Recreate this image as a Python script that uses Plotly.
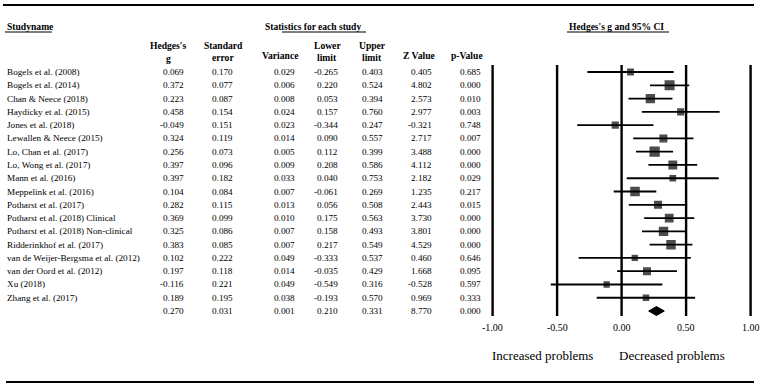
import plotly.graph_objects as go

studies = ["Bogels et al. (2008)", "Bogels et al. (2014)", "Chan & Neece (2018)", "Haydicky et al. (2015)",
           "Jones et al. (2018)", "Lewallen & Neece (2015)", "Lo, Chan et al. (2017)", "Lo, Wong et al. (2017)",
           "Mann et al. (2016)", "Meppelink et al. (2016)", "Potharst et al. (2017)", "Potharst et al. (2018) Clinical",
           "Potharst et al. (2018) Non-clinical", "Ridderinkhof et al. (2017)", "van de Weijer-Bergsma et al. (2012)",
           "van der Oord et al. (2012)", "Xu (2018)", "Zhang et al. (2017)"]
hedges_g = [0.069, 0.372, 0.223, 0.458, -0.049, 0.324, 0.256, 0.397, 0.397, 0.104, 0.282, 0.369, 0.325, 0.383, 0.102, 0.197, -0.116, 0.189]
std_err = [0.170, 0.077, 0.087, 0.154, 0.151, 0.119, 0.073, 0.096, 0.182, 0.084, 0.115, 0.099, 0.086, 0.085, 0.222, 0.118, 0.221, 0.195]
variance = [0.029, 0.006, 0.008, 0.024, 0.023, 0.014, 0.005, 0.009, 0.033, 0.007, 0.013, 0.010, 0.007, 0.007, 0.049, 0.014, 0.049, 0.038]
lower = [-0.265, 0.220, 0.053, 0.157, -0.344, 0.090, 0.112, 0.208, 0.040, -0.061, 0.056, 0.175, 0.158, 0.217, -0.333, -0.035, -0.549, -0.193]
upper = [0.403, 0.524, 0.394, 0.760, 0.247, 0.557, 0.399, 0.586, 0.753, 0.269, 0.508, 0.563, 0.493, 0.549, 0.537, 0.429, 0.316, 0.570]
z_value = [0.405, 4.802, 2.573, 2.977, -0.321, 2.717, 3.488, 4.112, 2.182, 1.235, 2.443, 3.730, 3.801, 4.529, 0.460, 1.668, -0.528, 0.969]
p_value = [0.685, 0.000, 0.010, 0.003, 0.748, 0.007, 0.000, 0.000, 0.029, 0.217, 0.015, 0.000, 0.000, 0.000, 0.646, 0.095, 0.597, 0.333]

summary = {"g": 0.270, "se": 0.031, "var": 0.001, "lo": 0.210, "hi": 0.331, "z": 8.770, "p": 0.000}

tick_vals = [-1.0, -0.5, 0.0, 0.5, 1.0]
tick_text = ["-1.00", "-0.50", "0.00", "0.50", "1.00"]

W, H = 765, 388
FONT = "Liberation Serif, Times New Roman, DejaVu Serif, serif"
n = len(studies)
rows = list(range(n))
sum_row = n

bottom_px = 318
row_px0, row_step = 72, 13.28
y_top = -row_px0 / row_step
y_bot = (bottom_px - row_px0) / row_step

fig = go.Figure()

# vertical reference lines at each tick value (from just above first row to below summary)
ref_top = (65 - row_px0) / row_step
ref_bot = (316 - row_px0) / row_step
for v in tick_vals:
    fig.add_trace(go.Scatter(x=[v, v], y=[ref_top, ref_bot], mode="lines",
                             line=dict(color="black", width=2.4), hoverinfo="skip", showlegend=False))

# CI lines
for i in rows:
    fig.add_trace(go.Scatter(x=[lower[i], upper[i]], y=[i, i], mode="lines",
                             line=dict(color="black", width=1.8), hoverinfo="skip", showlegend=False))

# squares sized by weight
sizes = [4.3 + 0.44 * (1.0 / (s * s)) ** 0.5 for s in std_err]
fig.add_trace(go.Scatter(x=hedges_g, y=rows, mode="markers",
                         marker=dict(symbol="square", color="black", size=sizes, line=dict(width=0)),
                         hoverinfo="skip", showlegend=False))

# summary diamond
dh = 0.34
fig.add_trace(go.Scatter(x=[summary["lo"], summary["g"], summary["hi"], summary["g"], summary["lo"]],
                         y=[sum_row, sum_row - dh, sum_row, sum_row + dh, sum_row],
                         mode="lines", fill="toself", fillcolor="black",
                         line=dict(color="black", width=1), hoverinfo="skip", showlegend=False))

def px(x):
    return x / W

def py(y):
    return 1 - y / H

col_right = [186, 235, 297, 340, 385, 434, 483]
cols = [hedges_g, std_err, variance, lower, upper, z_value, p_value]
sum_vals = [summary["g"], summary["se"], summary["var"], summary["lo"], summary["hi"], summary["z"], summary["p"]]

ann = []
tf = dict(family=FONT, size=9.2, color="black")
for i in rows:
    ann.append(dict(x=px(5), y=i, xref="paper", yref="y", text=studies[i], xanchor="left",
                    yanchor="middle", showarrow=False, font=tf))
    for c, xr in zip(cols, col_right):
        ann.append(dict(x=px(xr), y=i, xref="paper", yref="y", text=f"{c[i]:.3f}", xanchor="right",
                        yanchor="middle", showarrow=False, font=tf))
for v, xr in zip(sum_vals, col_right):
    ann.append(dict(x=px(xr), y=sum_row, xref="paper", yref="y", text=f"{v:.3f}", xanchor="right",
                    yanchor="middle", showarrow=False, font=tf))

# axis tick labels placed through the x scale
for v, t in zip(tick_vals, tick_text):
    ann.append(dict(x=v, y=py(327), xref="x", yref="paper", text=t, xanchor="center",
                    yanchor="middle", showarrow=False, font=dict(family=FONT, size=10, color="black")))

hf = dict(family=FONT, size=9.6, color="black")
headers = [
    ("<b>Hedges's</b>", 168, 45), ("<b>g</b>", 168, 58),
    ("<b>Standard</b>", 223, 45), ("<b>error</b>", 223, 57),
    ("<b>Variance</b>", 280, 56),
    ("<b>Lower</b>", 327, 45), ("<b>limit</b>", 327, 57),
    ("<b>Upper</b>", 372, 45), ("<b>limit</b>", 372, 57),
    ("<b>Z Value</b>", 419, 56),
    ("<b>p-Value</b>", 467, 56),
]
for t, x, y in headers:
    ann.append(dict(x=px(x), y=py(y), xref="paper", yref="paper", text=t, xanchor="center",
                    yanchor="middle", showarrow=False, font=hf))

ann.append(dict(x=px(5), y=py(27), xref="paper", yref="paper", text="<b>Studyname</b>", xanchor="left",
                yanchor="middle", showarrow=False, font=hf))
ann.append(dict(x=px(263), y=py(27), xref="paper", yref="paper", text="<b>Statistics for each study</b>",
                xanchor="left", yanchor="middle", showarrow=False, font=dict(family=FONT, size=9.5, color="black")))
ann.append(dict(x=px(567), y=py(27), xref="paper", yref="paper", text="<b>Hedges's g and 95% CI</b>",
                xanchor="left", yanchor="middle", showarrow=False, font=dict(family=FONT, size=9.5, color="black")))

lf = dict(family=FONT, size=13, color="black")
ann.append(dict(x=px(542), y=py(355), xref="paper", yref="paper", text="Increased problems", xanchor="center",
                yanchor="middle", showarrow=False, font=lf))
ann.append(dict(x=px(672), y=py(355), xref="paper", yref="paper", text="Decreased problems", xanchor="center",
                yanchor="middle", showarrow=False, font=lf))

# underline and border lines
for x0, x1 in [(5, 52), (282, 366), (567, 669)]:
    fig.add_shape(type="line", xref="paper", yref="paper", x0=px(x0), x1=px(x1), y0=py(32), y1=py(32),
                  line=dict(color="black", width=1))
fig.add_shape(type="line", xref="paper", yref="paper", x0=px(3), x1=px(754), y0=py(5), y1=py(5),
              line=dict(color="black", width=2))
fig.add_shape(type="line", xref="paper", yref="paper", x0=px(6), x1=px(754), y0=py(382), y1=py(382),
              line=dict(color="black", width=2))

# x scale: -1 -> 493 px, +1 -> 751 px; domain padded so edge lines are not clipped
x_left_px, x_right_px, pad = 492.6, 750.6, 4
unit = (x_right_px - x_left_px) / 2.0
fig.update_layout(
    width=W, height=H, margin=dict(l=0, r=0, t=0, b=0),
    paper_bgcolor="white", plot_bgcolor="rgba(0,0,0,0)",
    annotations=ann,
    xaxis=dict(domain=[(x_left_px - pad) / W, (x_right_px + pad) / W],
               range=[-1 - pad / unit, 1 + pad / unit], showticklabels=False,
               showgrid=False, zeroline=False, showline=False, ticks=""),
    yaxis=dict(domain=[1 - bottom_px / H, 1], range=[y_bot, y_top], visible=False,
               showgrid=False, zeroline=False),
)

fig.write_html("out.html", config={"displayModeBar": False},
               post_script="document.body.style.margin='0px';document.body.style.padding='0px';")
